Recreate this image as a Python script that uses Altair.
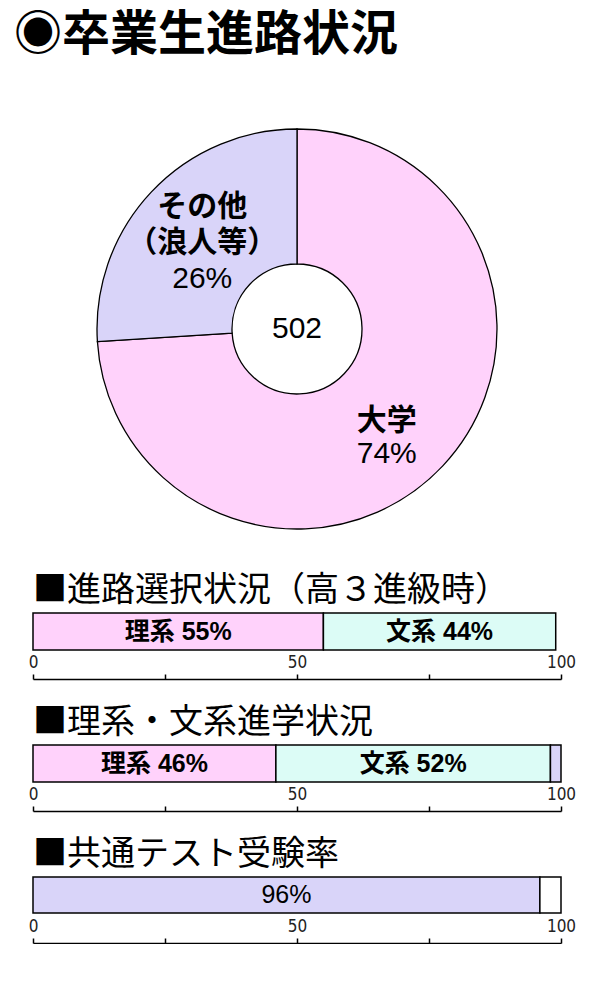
import altair as alt
import pandas as pd

FONT = "Liberation Sans, Noto Sans CJK JP"
JP_FONT = "Noto Sans CJK JP"
NUM_FONT = "DejaVu Sans Condensed, Liberation Sans"

PINK = "#FFD2FB"
LAVENDER = "#D9D4F9"
CYAN = "#DCFCF6"

# --- pie: 卒業生進路状況 ---
pie_cats = ["大学", "その他"]
pie_values = [74, 26]
pie_line1 = ["大学", "その他"]
pie_line2 = ["", "（浪人等）"]
pie_pct = ["74%", "26%"]
pie_total = [502]

# --- bars ---
bar1_cats = ["理系", "文系"]
bar1_values = [55, 44]
bar1_labels = ["理系 55%", "文系 44%"]

bar2_cats = ["理系", "文系", "その他"]
bar2_values = [46, 52, 2]
bar2_labels = ["理系 46%", "文系 52%", ""]

bar3_cats = ["受験", "未受験"]
bar3_values = [96, 4]
bar3_labels = ["96%", ""]


pie_df = pd.DataFrame({"cat": pie_cats, "value": pie_values, "line1": pie_line1,
                       "line2": pie_line2, "pct": pie_pct, "order": [0, 1]})

base = alt.Chart(pie_df).encode(
    theta=alt.Theta("value:Q", stack=True),
    order=alt.Order("order:Q"),
)
arc = base.mark_arc(outerRadius=200, innerRadius=65, stroke="black", strokeWidth=1.3).encode(
    color=alt.Color("cat:N", scale=alt.Scale(domain=pie_cats, range=[PINK, LAVENDER]), legend=None)
)


def pie_line(cat, field, dx, dy, weight):
    return base.transform_calculate(
        t=f"datum.cat == '{cat}' ? datum.{field} : ''"
    ).mark_text(radius=130, dx=dx, dy=dy, font=FONT, fontSize=30, fontWeight=weight,
                color="black").encode(text="t:N")


total = alt.Chart(pd.DataFrame({"total": pie_total})).mark_text(
    font=FONT, fontSize=30, color="black").encode(text="total:Q")

pie = alt.layer(
    arc,
    pie_line("その他", "line1", 0, -33, "bold"),
    pie_line("その他", "line2", 0, 3, "bold"),
    pie_line("その他", "pct", 0, 39, "normal"),
    pie_line("大学", "line1", -5, 3, "bold"),
    pie_line("大学", "pct", -5, 36, "normal"),
    total,
).properties(
    width=528, height=378,
    title=alt.TitleParams("◉卒業生進路状況", anchor="start", frame="group", font=JP_FONT,
                          fontSize=48, fontWeight="bold", color="black", dx=-19, offset=66),
)


def bar_section(title, cats, values, labels, colors, weight, h):
    df = pd.DataFrame({"cat": cats, "value": values, "label": labels,
                       "order": list(range(len(cats))), "row": title})
    axis = alt.Axis(orient="top", offset=-66, values=[0, 25, 50, 75, 100],
                    labelExpr="datum.value % 50 == 0 ? datum.label : ''",
                    tickSize=5, tickColor="black", tickWidth=1.5,
                    domainColor="black", domainWidth=1.5, grid=False, title=None,
                    labelFont=NUM_FONT, labelFontSize=17, labelColor="#222",
                    labelPadding=3, labelFlush=False)
    xscale = alt.Scale(domain=[0, 100], nice=False)
    ybase = alt.Y("row:N", axis=None, scale=alt.Scale(paddingInner=0, paddingOuter=0))
    bars = alt.Chart(df).mark_bar(stroke="black", strokeWidth=1.5).encode(
        x=alt.X("value:Q", stack="zero", scale=xscale, axis=axis),
        y=ybase,
        order=alt.Order("order:Q"),
        color=alt.Color("cat:N", scale=alt.Scale(domain=cats, range=colors), legend=None),
    )
    text = alt.Chart(df).transform_window(
        cum="sum(value)", sort=[alt.SortField("order")]
    ).transform_calculate(
        mid="datum.cum - datum.value / 2"
    ).mark_text(font=FONT, fontSize=25, fontWeight=weight, color="black").encode(
        x=alt.X("mid:Q", scale=xscale, axis=axis),
        y=ybase,
        text="label:N",
    )
    return alt.layer(bars, text).properties(
        width=528, height=h,
        title=alt.TitleParams(title, anchor="start", frame="group", font=JP_FONT,
                              fontSize=34, fontWeight="normal", color="black", offset=4),
    )


sec1 = bar_section("■進路選択状況（高３進級時）", bar1_cats, bar1_values, bar1_labels,
                   [PINK, CYAN], "bold", 37)
sec2 = bar_section("■理系・文系進学状況", bar2_cats, bar2_values, bar2_labels,
                   [PINK, CYAN, LAVENDER], "bold", 37)
sec3 = bar_section("■共通テスト受験率", bar3_cats, bar3_values, bar3_labels,
                   [LAVENDER, "white"], "normal", 36)

chart = alt.vconcat(pie, sec1, sec2, sec3, spacing=95, bounds="flush").resolve_scale(
    color="independent"
).configure_view(stroke=None).properties(
    padding={"left": 6, "top": 4, "right": 0, "bottom": 0}, background="white"
)

chart.save("out.html", embed_options={"renderer": "svg", "actions": False})
